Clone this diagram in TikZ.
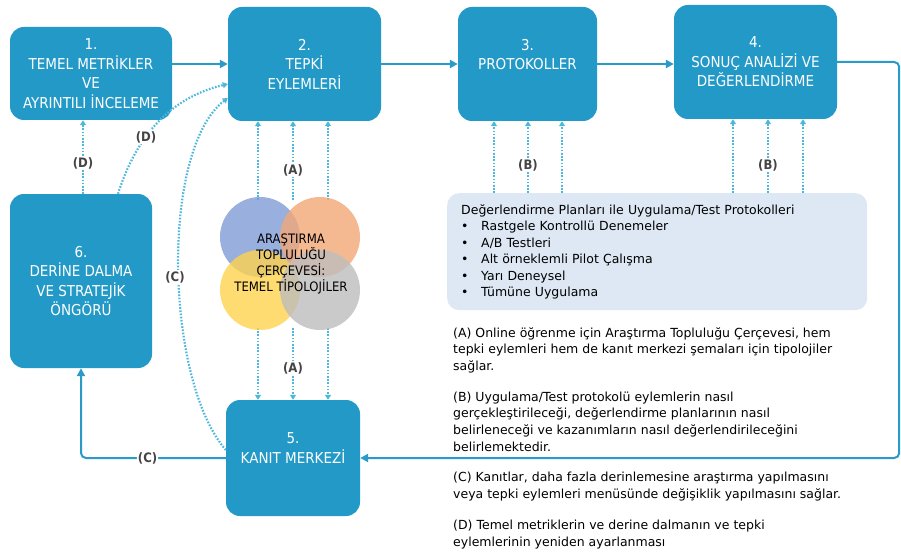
\documentclass[tikz,border=0pt]{standalone}
\usepackage{fontspec}
\setmainfont{DejaVu Sans Condensed}
\newfontfamily\notefont{DejaVu Sans}
\usetikzlibrary{arrows.meta,positioning,calc}
\definecolor{cBox}{HTML}{2299C7}
\definecolor{cFlow}{HTML}{2A9AC8}
\definecolor{cDot}{HTML}{4CB8DC}
\definecolor{cPlan}{HTML}{DDE8F4}
\definecolor{cTag}{HTML}{444444}
\definecolor{vBlue}{HTML}{7F9BD6}
\definecolor{vOrange}{HTML}{F3A877}
\definecolor{vYellow}{HTML}{FFD34F}
\definecolor{vGray}{HTML}{BDBDBD}

\begin{document}
\begin{tikzpicture}[x=1pt, y=-1pt, >={Triangle[length=8pt,width=8pt]},
    stage/.style={rectangle, rounded corners=14pt, fill=cBox, text=white,
      align=center, inner sep=0pt, font=\fontsize{15}{19.5}\selectfont},
    flow/.style={cFlow, line width=2pt, ->, rounded corners=5pt},
    dotarrow/.style={cDot, line width=2.2pt, dash pattern=on 1.6pt off 1.6pt,
      -{Triangle[length=5pt,width=6pt]}},
    tag/.style={fill=white, text=cTag, inner sep=1pt,
      font=\fontsize{13}{15}\selectfont\bfseries},
    circ/.style={circle, minimum size=80pt, inner sep=0pt, fill opacity=0.8}]
  \useasboundingbox (0,0) rectangle (901,556);

  % stages of the cycle
  \node[stage, minimum width=162, minimum height=93] (box1) at (91,73.5)
    {1.\\TEMEL METRİKLER\\VE\\AYRINTILI İNCELEME};
  \node[stage, minimum width=153, minimum height=114] (box2) at (304.5,64)
    {2.\\TEPKİ\\EYLEMLERİ};
  \node[stage, minimum width=139, minimum height=114] (box3) at (527.5,64)
    {3.\\PROTOKOLLER\\~};
  \node[stage, minimum width=163, minimum height=114] (box4) at (755.5,62)
    {4.\\SONUÇ ANALİZİ VE\\DEĞERLENDİRME};
  \node[stage, minimum width=134, minimum height=116] (box5) at (293,458)
    {5.\\KANIT MERKEZİ\\~};
  \node[stage, minimum width=142, minimum height=174] (box6) at (81,281)
    {6.\\DERİNE DALMA\\VE STRATEJİK\\ÖNGÖRÜ};

  % main flow
  \draw[flow] (box1.east |- box2.west) -- (box2.west);
  \draw[flow] (box2.east) -- (box3.west);
  \draw[flow] (box3.east) -- (box3.east -| box4.west);
  \draw[flow] (box4.east) -- ++(62,0) |- (box5.east);
  \draw[flow] (box5.west) -| (box6.south) node[tag, pos=0.27] (lblC2) {(C)};

  % plans box
  \node[anchor=north west, fill=cPlan, rounded corners=12pt, minimum width=420,
    minimum height=117, inner xsep=14pt, inner ysep=10pt, align=left,
    text width=392, font=\notefont\fontsize{12.5}{16.5}\selectfont] (plans) at (447,193)
    {Değerlendirme Planları ile Uygulama/Test Protokolleri\\
     \makebox[20pt][l]{•}Rastgele Kontrollü Denemeler\\
     \makebox[20pt][l]{•}A/B Testleri\\
     \makebox[20pt][l]{•}Alt örneklemli Pilot Çalışma\\
     \makebox[20pt][l]{•}Yarı Deneysel\\
     \makebox[20pt][l]{•}Tümüne Uygulama};

  % (B) links
  \foreach \x in {494,528,562}{
    \coordinate (p\x) at (\x,193);
    \draw[dotarrow] (p\x) -- (p\x |- box3.south);
  }
  \foreach \x in {733,768,803}{
    \coordinate (q\x) at (\x,193);
    \draw[dotarrow] (q\x) -- (q\x |- box4.south);
  }
  \node[tag] (lblB1) at (528,165) {(B)};
  \node[tag] (lblB2) at (768,165) {(B)};

  % (A) links
  \foreach \x in {258,293,328}{
    \coordinate (a\x) at (\x,200);
    \draw[dotarrow] (a\x) -- (a\x |- box2.south);
    \coordinate (b\x) at (\x,328);
    \draw[dotarrow] (b\x) -- (b\x |- box5.north);
  }
  \node[tag] (lblA1) at (293,170) {(A)};
  \node[tag] (lblA2) at (293,368) {(A)};

  % typologies
  \node[circ, fill=vBlue] (cb) at (260,237) {};
  \node[circ, fill=vOrange] (co) at (320,237) {};
  \node[circ, fill=vYellow] (cy) at (260,290) {};
  \node[circ, fill=vGray] (cg) at (320,290) {};
  \node[align=center, font=\fontsize{13}{15.7}\selectfont] (venn) at (291,264)
    {ARAŞTIRMA\\TOPLULUĞU\\ÇERÇEVESİ:\\TEMEL TİPOLOJİLER};

  % (D) and (C) feedback
  \coordinate (d1) at (83,194);
  \draw[dotarrow] (d1) -- (d1 |- box1.south);
  \draw[dotarrow] ([xshift=37pt]box6.north) .. controls (132,150) and (160,100)
    .. ([yshift=-20pt]box2.west);
  \draw[dotarrow] ([yshift=8pt]box5.west) .. controls (165,380) and (160,150)
    .. ([yshift=-34pt]box2.west);
  \node[tag] (lblD1) at (83,163) {(D)};
  \node[tag] (lblD2) at (146,137) {(D)};
  \node[tag] (lblC1) at (175,277) {(C)};

  % notes
  \node[anchor=north west, align=left, inner sep=0pt,
    font=\notefont\fontsize{12.5}{16.7}\selectfont] (notes) at (453,327)
    {(A) Online öğrenme için Araştırma Topluluğu Çerçevesi, hem\\
     tepki eylemleri hem de kanıt merkezi şemaları için tipolojiler\\
     sağlar.\\[14pt]
     (B) Uygulama/Test protokolü eylemlerin nasıl\\
     gerçekleştirileceği, değerlendirme planlarının nasıl\\
     belirleneceği ve kazanımların nasıl değerlendirileceğini\\
     belirlemektedir.\\[14pt]
     (C) Kanıtlar, daha fazla derinlemesine araştırma yapılmasını\\
     veya tepki eylemleri menüsünde değişiklik yapılmasını sağlar.\\[14pt]
     (D) Temel metriklerin ve derine dalmanın ve tepki\\
     eylemlerinin yeniden ayarlanması};
\end{tikzpicture}
\end{document}
